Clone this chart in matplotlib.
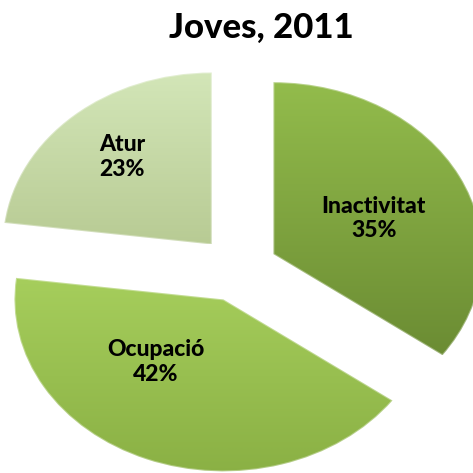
import numpy as np
import matplotlib
matplotlib.use("Agg")
import matplotlib.pyplot as plt
from matplotlib.colors import to_rgb

# ---- data ----
categories = ["Inactivitat", "Ocupació", "Atur"]
values = [35, 42, 23]
title = "Joves, 2011"

# ---- style ----
top_colors = ["#93BC4C", "#A6CE5C", "#D3E6B8"]
bottom_colors = ["#6B8C33", "#8AB044", "#B8CB94"]
explode = [0.19, 0.19, 0.19]
label_xy = [(0.650, 0.292), (-0.393, -0.541), (-0.555, 0.651)]
FONT = ["Lato", "DejaVu Sans"]

W = H = 473
fig = plt.figure(figsize=(W / 100, H / 100), dpi=100)
ax = fig.add_axes([0, 0, 1, 1])

wedges, _ = ax.pie(values, startangle=90, counterclock=False, explode=explode,
                   radius=1.0, wedgeprops=dict(linewidth=0))
ax.set_aspect("auto")
ax.set_xlim(-1.139, -1.139 + W / 209)
ax.set_ylim(1.564 - H / 172, 1.564)
ax.axis("off")

for w, c1, c2 in zip(wedges, top_colors, bottom_colors):
    c1 = np.array(to_rgb(c1)); c2 = np.array(to_rgb(c2))
    path = w.get_path()
    verts = w.get_transform().transform(path.vertices)
    verts = ax.transData.inverted().transform(verts)
    x0, y0 = verts.min(axis=0); x1, y1 = verts.max(axis=0)
    t = np.linspace(0, 1, 256)[:, None]
    grad = (c1[None, :] * (1 - t) + c2[None, :] * t)[:, None, :]
    im = ax.imshow(grad, extent=(x0, x1, y0, y1), origin="upper",
                   aspect="auto", zorder=w.get_zorder() + 0.1, interpolation="bilinear")
    im.set_clip_path(w)
    w.set_edgecolor((1, 1, 1, 0.35))
    w.set_linewidth(1.5)
    w.set_zorder(w.get_zorder() + 0.2)
    w.set_facecolor("none")

for (x, y), cat, v in zip(label_xy, categories, values):
    ax.text(x, y, f"{cat}\n{v}%", ha="center", va="center", fontsize=16.5,
            fontweight=900, family=FONT, color="black",
            linespacing=1.2, zorder=10)

fig.text(261 / W, 1 - 38 / H, title, ha="center", va="baseline", fontsize=25,
         fontweight=900, family=FONT, color="black")

fig.savefig("out.png", dpi=100)
